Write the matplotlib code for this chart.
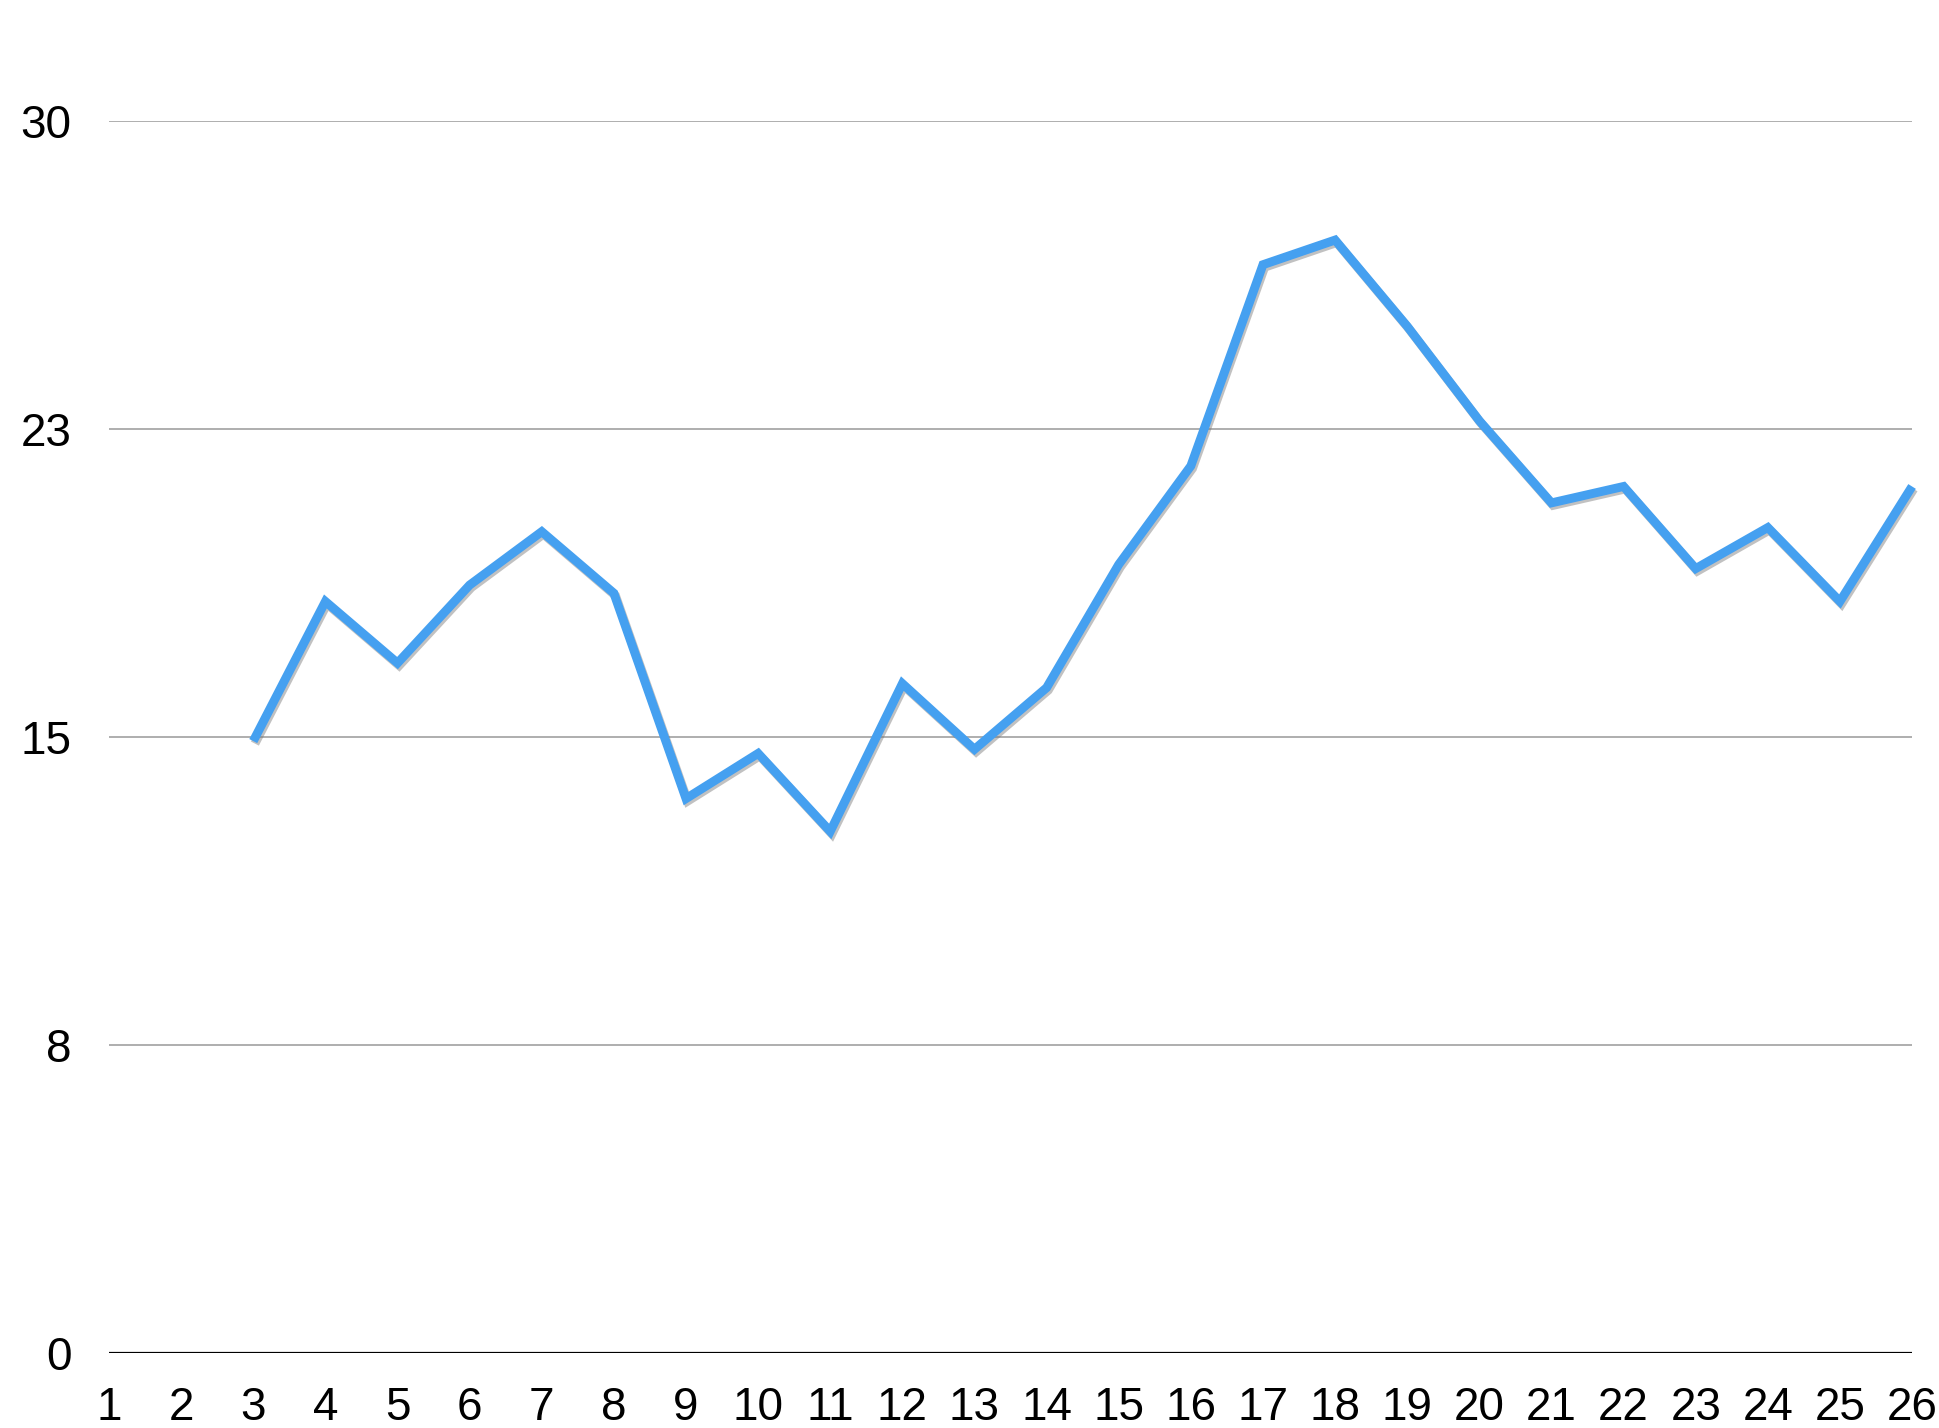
import numpy as np
import matplotlib
matplotlib.use('Agg')
from matplotlib import pyplot as plt
import matplotlib.patheffects as pe

# data (points 1 and 2 are empty)
x_values = list(range(1, 27))
y_values = [np.nan, np.nan, 14.9, 18.3, 16.8, 18.7, 20.0, 18.5, 13.5, 14.6,
            12.7, 16.3, 14.7, 16.2, 19.2, 21.6, 26.5, 27.1, 25.0, 22.7,
            20.7, 21.1, 19.1, 20.1, 18.3, 21.1]

y_ticks = [0, 7.5, 15, 22.5, 30]
y_ticklabels = ['0', '8', '15', '23', '30']

plt.rcParams['font.family'] = ['Liberation Sans', 'DejaVu Sans']

fig = plt.figure(figsize=(19.4, 14.28), dpi=100)
ax = fig.add_axes([0.0562, 0.0525, 0.9294, 0.8628])

# grid lines
for t in y_ticks[1:]:
    ax.axhline(t, color='#a8a8a8', lw=1.3, zorder=1)
ax.axhline(0, color='black', lw=1.6, zorder=2)

line, = ax.plot(x_values, y_values, color='#45a0f0', lw=6.4, zorder=3,
                solid_joinstyle='miter', solid_capstyle='butt', clip_on=False)
line.set_path_effects([pe.SimpleLineShadow(offset=(1.2, -1.8), shadow_color='#777777', alpha=0.45),
                       pe.Normal()])

ax.set_xlim(1, 26)
ax.set_ylim(0, 30)
ax.set_xticks(x_values)
ax.set_xticklabels([str(v) for v in x_values])
ax.set_yticks(y_ticks)
ax.set_yticklabels(y_ticklabels)
ax.tick_params(axis='both', length=0, labelsize=33, colors='black')
ax.tick_params(axis='x', pad=24)
ax.tick_params(axis='y', pad=27)
for s in ax.spines.values():
    s.set_visible(False)

plt.savefig('out.png', dpi=100)
